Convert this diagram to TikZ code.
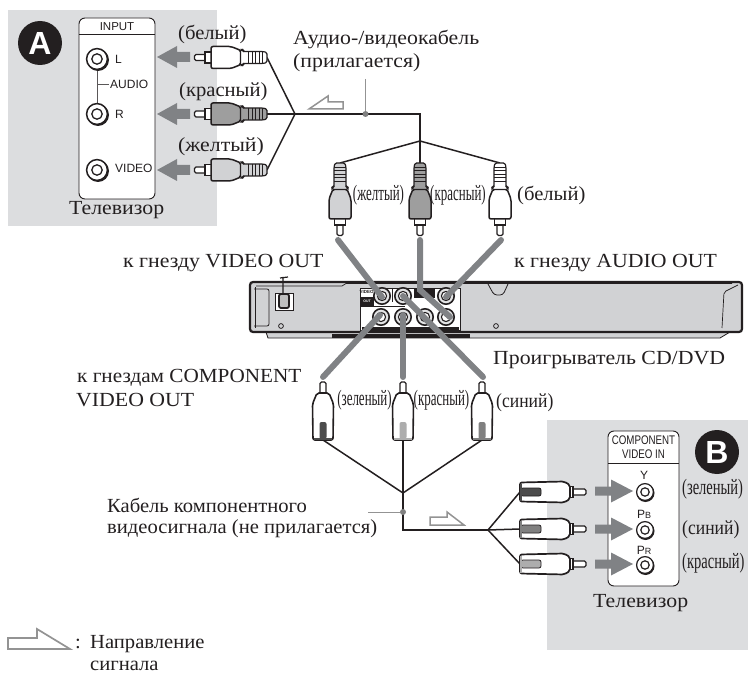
\documentclass[tikz,border=0pt]{standalone}
\usepackage{fontspec}
\setmainfont{Liberation Serif}
\newfontfamily\fwid[FakeStretch=1.09]{Liberation Serif}
\newfontfamily\fmid[FakeStretch=1.03]{Liberation Serif}
\newfontfamily\fcom[FakeStretch=1.06]{Liberation Serif}
\newfontfamily\cnd[FakeStretch=0.59]{Liberation Serif}
\newfontfamily\cne[FakeStretch=0.66]{Liberation Serif}
\newfontfamily\cnf[FakeStretch=0.88]{Liberation Serif}
\newfontfamily\sns{Liberation Sans}
\newfontfamily\snc[FakeStretch=0.78]{Liberation Sans}
\usetikzlibrary{calc}
\definecolor{panelgray}{HTML}{DCDDDF}
\definecolor{fatgray}{HTML}{808285}
\definecolor{bodygray}{HTML}{D1D2D4}
\definecolor{ink}{HTML}{231F20}
\tikzset{
  x=1pt,y=-1pt,
  lab/.style={inner sep=0pt,anchor=base west,font=\fmid\fontsize{20}{22}\selectfont,text=ink},
  labw/.style={inner sep=0pt,anchor=base west,font=\fwid\fontsize{20}{22}\selectfont,text=ink},
  labc/.style={inner sep=0pt,anchor=base,font=\cnd\fontsize{22}{22}\selectfont,text=ink},
  labr/.style={inner sep=0pt,anchor=base west,font=\cne\fontsize{22}{22}\selectfont,text=ink},
  labs/.style={inner sep=0pt,font=\sns\fontsize{12}{14}\selectfont,text=ink},
  panel/.style={fill=panelgray,draw=none},
  jackbox/.style={draw=ink,line width=.9pt,fill=white,rounded corners=6pt},
  cable/.style={draw=ink,line width=1.5pt},
  maincable/.style={draw=ink,line width=2.4pt},
  leader/.style={draw=gray!85,line width=1pt},
  dot/.style={circle,fill=gray,inner sep=0pt,minimum size=6pt},
  fat/.style={draw=fatgray,line width=6pt,line cap=round},
  bigarrow/.style={fill=fatgray,draw=none},
  flow/.style={draw=gray!85,line width=1.5pt,fill=white},
  badge/.style={circle,fill=ink,text=white,inner sep=0pt,minimum size=44pt,font=\sns\bfseries\fontsize{32}{32}\selectfont},
  plate/.style={fill=white,draw=ink,line width=.5pt},
  jack/.pic={
    \fill[ink] (1,1) circle (11);
    \draw[ink,line width=1.5pt,fill=white] (0,0) circle (10.4);
    \draw[ink,line width=1.3pt,fill=white] (0,0) circle (5.2);
  },
  sjack/.pic={
    \fill[ink] (.5,1) circle (9);
    \draw[ink,line width=1.2pt,fill=white] (0,0) circle (8.4);
    \draw[ink,line width=1.2pt,fill=white] (0,0) circle (4.2);
  },
  pjack/.pic={
    \draw[ink,line width=1.6pt,fill=bodygray!60] (0,0) circle (8.2);
    \draw[ink,line width=1.1pt,fill=white] (0,0) circle (4.6);
  },
  avplug/.pic={
    \draw[ink,line width=1.2pt,fill=white,rounded corners=1.5pt] (-3,60) -- (-3,72.5) -- (3,72.5) -- (3,60);
    \draw[ink,line width=1.2pt,fill=white] (-5.5,55) rectangle (5.5,62);
    \draw[ink,line width=1.5pt,fill=#1,rounded corners=2pt] (-7,26) -- (-11,36) -- (-11,56) -- (11,56) -- (11,36) -- (7,26) -- cycle;
    \draw[ink,line width=1.2pt,fill=#1,rounded corners=1.5pt] (-5,0) -- (-6,4) -- (-6,24) -- (-8,24) -- (-8,26.5) -- (8,26.5) -- (8,24) -- (6,24) -- (6,4) -- (5,0) -- cycle;
    \foreach \r in {4.5,8,11.5,15,18.5}{\draw[ink,line width=1pt] (-6,\r) -- (6,\r);}
  },
  cvplug/.pic={
    \draw[ink,line width=1.1pt,fill=white,rounded corners=1.5pt] (-3,45) -- (-3,58) -- (3,58) -- (3,45);
    \draw[ink,line width=1.6pt,fill=white,rounded corners=2pt] (-10,0) -- (-10.5,36) -- (-6,47) -- (6,47) -- (10.5,36) -- (10,0) -- cycle;
    \fill[#1,rounded corners=2pt] (-3.5,1) -- (-3.5,18) -- (3.5,18) -- (3.5,1) -- cycle;
    \fill[#1] (-9,0) rectangle (9,2.5);
  },
  hvplug/.pic={
    \draw[ink,line width=1.1pt,fill=white,rounded corners=1.5pt] (-3,50) -- (-3,66) -- (3,66) -- (3,50);
    \draw[ink,line width=1.1pt,fill=white] (-5.5,49) rectangle (5.5,53);
    \draw[ink,line width=1.7pt,fill=white,rounded corners=2pt] (-9.5,0) -- (-10.5,44) -- (-7,50) -- (7,50) -- (10.5,44) -- (9.5,0) -- cycle;
    \draw[ink,line width=.8pt,fill=#1,rounded corners=2pt] (-4,1) -- (-4,21) -- (4,21) -- (4,1) -- cycle;
    \fill[#1] (-8.5,0) rectangle (8.5,2);
  }
}
\begin{document}
\begin{tikzpicture}
\useasboundingbox (0,0) rectangle (748,674);
% panels
\path[panel] (8,10) rectangle (217,226);
\path[panel] (547,420) rectangle (748,650);
% Panel A
\node[badge] (badgeA) at (40,43) {A};
\draw[jackbox] (79,18) rectangle (155,199);
\draw[ink,line width=.8pt] (79,34) -- (155,34);
\node[labs,font=\sns\fontsize{11.5}{12}\selectfont] (inp) at (117,27) {INPUT};
\coordinate (jL) at (97,59); \coordinate (jR) at (97,114); \coordinate (jV) at (97,170);
\draw[ink!75,line width=1pt] (jL) -- (jR);
\draw[ink!75,line width=1pt] (97,85) -- (109,85);
\pic at (jL) {jack}; \pic at (jR) {jack}; \pic at (jV) {jack};
\node[labs,anchor=west] (tL) at (115,59) {L};
\node[labs,anchor=west] (tAud) at (110,84.5) {AUDIO};
\node[labs,anchor=west] (tR) at (115,114) {R};
\node[labs,anchor=west] (tVid) at (115,168) {VIDEO};
\foreach \yy in {57,114,170}{
  \path[bigarrow] (157,\yy) -- (177,\yy-11) -- (177,\yy-5) -- (190,\yy-5) -- (190,\yy+5) -- (177,\yy+5) -- (177,\yy+11) -- cycle;
}
\coordinate (aJ) at (295,114);
\coordinate (aW) at (267,57.5); \coordinate (aRd) at (267,114); \coordinate (aY) at (267,170);
\coordinate (bend) at (420,114);
\coordinate (vJ) at (420,141);
\coordinate (vY) at (340,163); \coordinate (vR) at (420,163); \coordinate (vW) at (500,163);
\draw[cable] (aW) -- (aJ); \draw[cable] (aRd) -- (aJ); \draw[cable] (aY) -- (aJ);
\draw[maincable] (aJ) -- (bend) -- (vJ);
\draw[cable] (vJ) -- (vY); \draw[cable] (vJ) -- (vR); \draw[cable] (vJ) -- (vW);
\pic[rotate=-90] at (aW) {avplug=white};
\pic[rotate=-90] at (aRd) {avplug=black!38};
\pic[rotate=-90] at (aY) {avplug=bodygray};
\pic at (vY) {avplug=bodygray};
\pic at (vR) {avplug=black!38};
\pic at (vW) {avplug=white};
% leader & flow A
\coordinate (lt) at (365.5,79);
\node[dot] (dA) at (365.5,114) {};
\draw[leader] (lt) -- (dA);
\draw[flow,fill=none] (309,109) -- (328,96) -- (328,102) -- (343,102) -- (343,109) -- cycle;
% player
\draw[ink,line width=.8pt,fill=bodygray] (266,332) -- (268,338) -- (720,338) -- (730,332) -- cycle;
\fill[ink] (332,334) rectangle (470,338);
\draw[ink,line width=2.2pt,fill=bodygray,rounded corners=3pt] (250,282) -- (742,282) -- (742,332) -- (250,332) -- cycle;
\draw[ink,line width=.7pt] (256,286) -- (342,286) -- (346,283.5) -- (732,283.5);
\draw[ink,line width=.7pt] (255,287) -- (255,328);
\draw[ink,line width=.8pt,rounded corners=2pt] (254,289) -- (269,289) -- (269,326) -- (254,326);
\draw[ink,line width=.8pt,rounded corners=3pt] (488,284) -- (494,295) -- (503,295) -- (508,284);
\draw[ink,line width=.7pt,rounded corners=2pt] (738,285) -- (724,292) -- (722,328);
\draw[ink,line width=.9pt,fill=white] (275,293) rectangle (293,310);
\draw[ink,line width=1.8pt,fill=gray!50,rounded corners=2pt] (279,294) rectangle (289,308);
\draw[ink,line width=1.2pt] (283,277) -- (283,294) (280,278) -- (288,277);
\draw[ink,line width=.8pt] (281,326) circle (2.4);
\draw[ink,line width=.8pt] (496,326) circle (2.4);
\path[plate] (360,288) rectangle (460,330);
\fill[ink] (360,297) rectangle (374,305.5);
\fill[ink] (362,327) rectangle (459,330.5);
\fill[ink] (414,288) rectangle (435,298);
\draw[ink,line width=.7pt] (392,288) -- (392,302) (360,306) -- (405,306);
\node[inner sep=0pt,font=\sns\bfseries\fontsize{4.5}{5}\selectfont,text=ink] (tv1) at (366.5,292) {VIDEO};
\node[inner sep=0pt,font=\sns\bfseries\fontsize{3.5}{4}\selectfont,text=white] (tv2) at (367,301) {OUT};
\pic at (382,296) {pjack};
\pic at (403,296) {pjack};
\pic at (446,296) {pjack};
\pic at (381,317) {pjack};
\pic at (403,317) {pjack};
\pic at (425,317) {pjack};
\pic at (446,317) {pjack};
% fat lines
\coordinate (f1a) at (338,240); \coordinate (f1b) at (382,297);
\coordinate (f2a) at (420,240); \coordinate (f2m) at (420,290); \coordinate (f2b) at (450,317);
\coordinate (f3a) at (501,240); \coordinate (f3b) at (446,297);
\coordinate (f4a) at (380,315); \coordinate (f4b) at (323,377);
\coordinate (f5a) at (403,315); \coordinate (f5b) at (403,377);
\coordinate (f6a) at (403,296); \coordinate (f6b) at (483,377);
\draw[fat] (f1a) -- (f1b);
\draw[fat] (f2a) -- (f2m) -- (f2b);
\draw[fat] (f3a) -- (f3b);
\draw[fat] (f4a) -- (f4b);
\draw[fat] (f5a) -- (f5b);
\draw[fat] (f6a) -- (f6b);
% bottom plugs
\coordinate (cG) at (323,440); \coordinate (cR) at (403,440); \coordinate (cB) at (482,440);
\coordinate (cJ) at (403,493); \coordinate (cBend) at (403,530); \coordinate (cK) at (488,530);
\coordinate (hY) at (520,492); \coordinate (hB) at (520,529); \coordinate (hR) at (520,564);
\draw[cable] (cG) -- (cJ); \draw[cable] (cR) -- (cJ); \draw[cable] (cB) -- (cJ);
\draw[cable] (cJ) -- (cBend) -- (cK);
\draw[cable] (cK) -- (hY); \draw[cable] (cK) -- (hB); \draw[cable] (cK) -- (hR);
\pic[rotate=180] at (cG) {cvplug=black!70};
\pic[rotate=180] at (cR) {cvplug=black!32};
\pic[rotate=180] at (cB) {cvplug=black!50};
\pic[rotate=90] at (hY) {hvplug=black!70};
\pic[rotate=90] at (hB) {hvplug=black!50};
\pic[rotate=90] at (hR) {hvplug=black!32};
\coordinate (lb) at (368,512);
\node[dot] (dB) at (403,512) {};
\draw[leader] (lb) -- (dB);
\draw[flow,fill=none] (430,517) -- (447,517) -- (447,512) -- (464,525) -- (430,525) -- cycle;
% Panel B
\node[badge] (badgeB) at (717,452) {B};
\draw[jackbox] (608,431) rectangle (679,586);
\draw[ink,line width=.8pt] (608,463) -- (679,463);
\node[inner sep=0pt,align=center,font=\snc\fontsize{12.5}{14}\selectfont,text=ink] (cvin) at (643.5,447.5) {COMPONENT\\VIDEO IN};
\node[labs] (tY) at (644,475) {Y};
\node[labs] (tPb) at (644,514) {P\raisebox{0pt}{\fontsize{9}{9}\selectfont B}};
\node[labs] (tPr) at (644,550) {P\raisebox{0pt}{\fontsize{9}{9}\selectfont R}};
\pic at (645,492) {sjack}; \pic at (645,530) {sjack}; \pic at (645,565) {sjack};
\foreach \yy in {491,529,564}{
  \path[bigarrow] (595,\yy-4.5) -- (611,\yy-4.5) -- (611,\yy-11.5) -- (633,\yy) -- (611,\yy+11.5) -- (611,\yy+4.5) -- (595,\yy+4.5) -- cycle;
}
% labels
\node[lab] (l1) at (178,40) {(белый)};
\node[lab] (l2) at (179,97) {(красный)};
\node[labw] (l3) at (178,152) {(желтый)};
\node[labw] (l4) at (69,215) {Телевизор};
\node[labw] (l5) at (293,45) {Аудио-/видеокабель};
\node[labw] (l6) at (293,68) {(прилагается)};
\node[labc] (l7) at (378.5,201) {(желтый)};
\node[labc] (l8) at (458,201) {(красный)};
\node[lab] (l9) at (517,201) {(белый)};
\node[labw] (l10) at (123,268) {к гнезду VIDEO OUT};
\node[labw] (l11) at (514,268) {к гнезду AUDIO OUT};
\node[labw] (l12) at (493,364) {Проигрыватель CD/DVD};
\node[lab,font=\fcom\fontsize{20}{22}\selectfont] (l13) at (77,382) {к гнездам COMPONENT};
\node[lab,font=\fwid\fontsize{20}{22}\selectfont] (l14) at (76,406) {VIDEO OUT};
\node[labc] (l15) at (364.5,405) {(зеленый)};
\node[labc] (l16) at (441.5,405) {(красный)};
\node[lab,font=\cnf\fontsize{20}{22}\selectfont] (l17) at (496,407) {(синий)};
\node[lab] (l18) at (107,512) {Кабель компонентного};
\node[lab] (l19) at (107,533) {видеосигнала (не прилагается)};
\node[labr] (l20) at (682,494) {(зеленый)};
\node[labr,font=\cnf\fontsize{20}{22}\selectfont] (l21) at (682,534) {(синий)};
\node[labr] (l22) at (682,568) {(красный)};
\node[labw] (l23) at (593,607) {Телевизор};
% legend
\draw[flow,fill=none,line width=1.7pt] (8,649) -- (8,638) -- (37,638) -- (37,629) -- (70,649) -- cycle;
\node[lab] (l24) at (75,648) {:};
\node[lab] (l25) at (90,648) {Направление};
\node[lab] (l26) at (90,670) {сигнала};
\end{tikzpicture}
\end{document}
